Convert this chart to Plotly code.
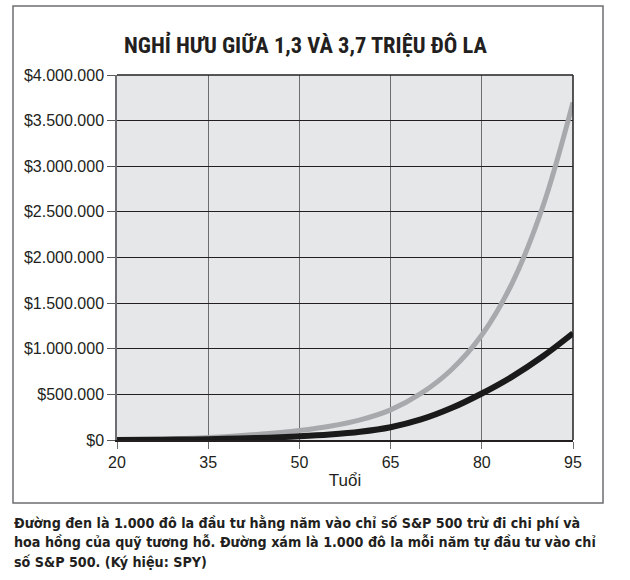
import plotly.graph_objects as go

ages = [20, 25, 30, 35, 40, 45, 50, 55, 60, 65, 70, 75, 80, 85, 90, 95]
self_invest = [1000, 6000, 15000, 28000, 46000, 70000, 103000, 150000, 220000,
               330000, 510000, 770000, 1150000, 1720000, 2550000, 3700000]
fund_invest = [1000, 2000, 5000, 9000, 16000, 26000, 40000, 60000, 90000,
               140000, 225000, 350000, 510000, 695000, 915000, 1170000]

x_ticks = [20, 35, 50, 65, 80, 95]
y_ticks = [0, 500000, 1000000, 1500000, 2000000, 2500000, 3000000, 3500000, 4000000]
y_labels = ["$0", "$500.000", "$1.000.000", "$1.500.000", "$2.000.000",
            "$2.500.000", "$3.000.000", "$3.500.000", "$4.000.000"]

title_text = "NGHỈ HƯU GIỮA 1,3 VÀ 3,7 TRIỆU ĐÔ LA"
x_title = "Tuổi"
caption_lines = [
    "Đường đen là 1.000 đô la đầu tư hằng năm vào chỉ số S&P 500 trừ đi chi phí và",
    "hoa hồng của quỹ tương hỗ. Đường xám là 1.000 đô la mỗi năm tự đầu tư vào chỉ",
    "số S&P 500. (Ký hiệu: SPY)",
]

W, H = 630, 580
L, R, T, B = 117, 57, 75, 140
pw, ph = W - L - R, H - T - B

def px(x):
    return (x - L) / pw

def py(y):
    return (H - B - y) / ph

fig = go.Figure()
fig.add_trace(go.Scatter(x=ages, y=self_invest, mode="lines",
                         line=dict(color="#a7a9ac", width=5, shape="spline", smoothing=1),
                         hoverinfo="skip", showlegend=False))
fig.add_trace(go.Scatter(x=ages, y=fund_invest, mode="lines",
                         line=dict(color="#1a1a1a", width=6, shape="spline", smoothing=1),
                         hoverinfo="skip", showlegend=False))

annotations = [
    dict(text="<b>" + title_text + "</b>", xref="paper", yref="paper",
         x=px(305), y=py(44), xanchor="center", yanchor="middle", showarrow=False,
         font=dict(family="Liberation Sans Narrow, Roboto Condensed, Arial Narrow, sans-serif",
                   size=22.5, color="#231f20")),
]
for i, line in enumerate(caption_lines):
    annotations.append(dict(
        text="<b>" + line + "</b>", xref="paper", yref="paper",
        x=px(12), y=py(522.5 + 19.6 * i), xanchor="left", yanchor="middle",
        align="left", showarrow=False,
        font=dict(family="DejaVu Sans Condensed, DejaVu Sans, sans-serif",
                  size=14.2, color="#231f20")))

fig.update_layout(
    width=W, height=H,
    margin=dict(l=L, r=R, t=T, b=B),
    paper_bgcolor="white",
    plot_bgcolor="#e6e7e8",
    font=dict(family="Liberation Sans, Arial, sans-serif", color="#231f20"),
    xaxis=dict(range=[20, 95], tickvals=x_ticks, ticktext=[str(v) for v in x_ticks],
               showgrid=True, gridcolor="#6d6e71", gridwidth=1.3,
               zeroline=False, showline=True, linecolor="#231f20", linewidth=1.5,
               ticks="outside", ticklen=7, tickcolor="#6d6e71", tickwidth=1.3,
               tickfont=dict(size=16), mirror=False,
               title=dict(text=x_title, font=dict(size=17), standoff=4)),
    yaxis=dict(range=[0, 4000000], tickvals=y_ticks, ticktext=y_labels,
               showgrid=True, gridcolor="#231f20", gridwidth=1.2,
               zeroline=False, showline=True, linecolor="#6d6e71", linewidth=1.5,
               ticks="outside", ticklen=8, tickcolor="#58595b", tickwidth=1.2,
               tickfont=dict(size=16)),
    shapes=[
        dict(type="rect", xref="paper", yref="paper",
             x0=px(13), x1=px(603), y0=py(503), y1=py(6),
             line=dict(color="#6d6e71", width=1.5), fillcolor="rgba(0,0,0,0)", layer="below"),
        dict(type="line", xref="paper", yref="paper", x0=1, x1=1, y0=0, y1=1,
             line=dict(color="#231f20", width=1.5)),
        dict(type="line", xref="paper", yref="paper", x0=0, x1=1, y0=1, y1=1,
             line=dict(color="#231f20", width=1.5)),
    ],
    annotations=annotations,
)

fig.write_html("out.html")
